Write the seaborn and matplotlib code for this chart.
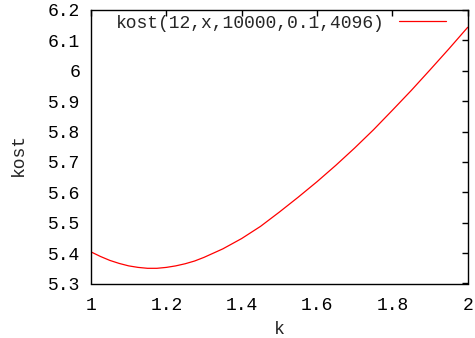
import matplotlib
matplotlib.use("Agg")
import matplotlib.pyplot as plt
import seaborn as sns
import pandas as pd

# data
k_values = [1.000, 1.025, 1.050, 1.075, 1.100, 1.125, 1.150, 1.175, 1.200, 1.225,
            1.250, 1.275, 1.300, 1.350, 1.400, 1.450, 1.500, 1.550, 1.600, 1.650,
            1.700, 1.750, 1.800, 1.850, 1.900, 1.950, 2.000]
kost_values = [5.404, 5.389, 5.376, 5.366, 5.358, 5.353, 5.350, 5.350, 5.353, 5.358,
               5.365, 5.374, 5.386, 5.414, 5.448, 5.488, 5.535, 5.584, 5.635, 5.689,
               5.746, 5.806, 5.870, 5.935, 6.003, 6.072, 6.143]
series_label = "kost(12,x,10000,0.1,4096)"
x_ticks = [1.0, 1.2, 1.4, 1.6, 1.8, 2.0]
x_tick_labels = ["1", "1.2", "1.4", "1.6", "1.8", "2"]
y_ticks = [5.3, 5.4, 5.5, 5.6, 5.7, 5.8, 5.9, 6.0, 6.1, 6.2]
y_tick_labels = ["5.3", "5.4", "5.5", "5.6", "5.7", "5.8", "5.9", "6", "6.1", "6.2"]
x_label = "k"
y_label = "kost"

sns.set_style("white")
plt.rcParams['font.family'] = ['Liberation Mono', 'DejaVu Sans']
plt.rcParams['font.size'] = 13

df = pd.DataFrame({"k": k_values, "kost": kost_values})

fig = plt.figure(figsize=(4.75, 3.38), dpi=100)
W, H = 475, 338
left, right, top, bottom = 91, 467.7, 10, 283.5
ax = fig.add_axes([left / W, 1 - bottom / H, (right - left) / W, (bottom - top) / H])

sns.lineplot(data=df, x="k", y="kost", color="#ff0000", linewidth=0.9,
             label=series_label, ax=ax)

ax.set_xlim(1.0, 2.0)
ax.set_ylim(5.3, 6.2)
ax.set_xticks(x_ticks)
ax.set_xticklabels(x_tick_labels)
ax.set_yticks(y_ticks)
ax.set_yticklabels(y_tick_labels)
ax.tick_params(direction="in", top=True, right=True, length=4, width=1,
               colors="black", labelsize=13)
ax.tick_params(axis="y", pad=8)
ax.tick_params(axis="x", pad=10)
for sp in ax.spines.values():
    sp.set_visible(True)
    sp.set_color("black")
    sp.set_linewidth(1.0)

ax.set_xlabel(x_label, fontsize=13)
ax.set_ylabel(y_label, fontsize=13)
ax.xaxis.set_label_coords(0.5, (bottom - 329) / (bottom - top))
ax.xaxis.label.set_va("center")
ax.yaxis.set_label_coords((18 - left) / (right - left), 1 - (155 - top) / (bottom - top))
ax.yaxis.label.set_va("center")
ax.yaxis.label.set_ha("center")

leg = ax.legend(loc="center right",
                bbox_to_anchor=((445.7 - left) / (right - left), 1 - 13.3 / (bottom - top)),
                frameon=False, markerfirst=False, handlelength=2.6, handletextpad=0.8,
                borderpad=0, borderaxespad=0, fontsize=13)

fig.savefig("out.png", dpi=100)
